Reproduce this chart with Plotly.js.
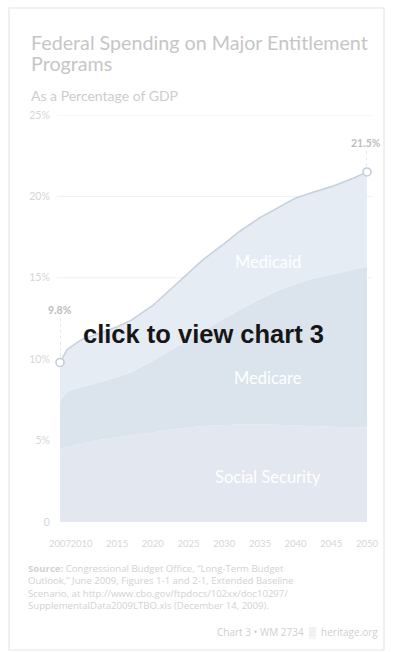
<!DOCTYPE html>
<html>
<head>
<meta charset="utf-8">
<script src="https://cdn.plot.ly/plotly-3.0.1.min.js"></script>
<style>
  html, body { margin: 0; padding: 0; background: #ffffff; }
  #chart { width: 393px; height: 652px; }
</style>
</head>
<body>
<div id="chart"></div>
<script>
// ---- Data (percent of GDP) ----
var years = [2007, 2008, 2010, 2012, 2015, 2017, 2020, 2022, 2025, 2027, 2030, 2032, 2035, 2038, 2040, 2042, 2045, 2048, 2050];
var socialSecurity = [4.5, 4.6, 4.8, 5.0, 5.2, 5.35, 5.5, 5.65, 5.8, 5.9, 5.95, 6.0, 6.0, 5.95, 5.95, 5.9, 5.85, 5.8, 5.8];
var medicare = [2.9, 3.4, 3.5, 3.5, 3.7, 3.85, 4.4, 4.75, 5.4, 5.8, 6.55, 7.0, 7.7, 8.35, 8.65, 9.0, 9.35, 9.7, 9.9];
var medicaid = [2.4, 2.6, 2.9, 3.0, 3.1, 3.2, 3.4, 3.7, 4.1, 4.4, 4.6, 4.8, 5.0, 5.1, 5.3, 5.3, 5.4, 5.6, 5.8];
var xTickVals = [2007, 2010, 2015, 2020, 2025, 2030, 2035, 2040, 2045, 2050];
var yTickVals = [0, 5, 10, 15, 20, 25];
var yTickText = ['0', '5%', '10%', '15%', '20%', '25%'];
var endLabels = ['9.8%', '21.5%'];
var sourceLines = [
  '<b>Source:</b> Congressional Budget Office, \u201cLong-Term Budget',
  'Outlook,\u201d June 2009, Figures 1-1 and 2-1, Extended Baseline',
  'Scenario, at http://www.cbo.gov/ftpdocs/102xx/doc10297/',
  'SupplementalData2009LTBO.xls (December 14, 2009).'
];

// ---- Layout helpers (pixel -> paper) ----
var W = 393, H = 652, L = 60, R = 26, T = 115, B = 130;
var pw = W - L - R, ph = H - T - B;
function px(x) { return (x - L) / pw; }
function py(y) { return (H - B - y) / ph; }

var totals = years.map(function (_, i) { return socialSecurity[i] + medicare[i] + medicaid[i]; });
var last = years.length - 1;

var traces = [
  { x: years, y: socialSecurity, type: 'scatter', mode: 'lines', stackgroup: 'one',
    line: { width: 0, color: '#e3e7f0' }, fillcolor: '#e3e7f0', hoverinfo: 'skip', name: 'Social Security' },
  { x: years, y: medicare, type: 'scatter', mode: 'lines', stackgroup: 'one',
    line: { width: 0, color: '#dbe4ec' }, fillcolor: '#dbe4ec', hoverinfo: 'skip', name: 'Medicare' },
  { x: years, y: medicaid, type: 'scatter', mode: 'lines', stackgroup: 'one',
    line: { width: 1.6, color: '#c7d1dc' }, fillcolor: '#e6ecf4', hoverinfo: 'skip', name: 'Medicaid' },
  { x: [years[0], years[last]], y: [totals[0], totals[last]], type: 'scatter', mode: 'markers',
    marker: { size: 8, color: '#ffffff', line: { color: '#c2ccd8', width: 1.6 } }, hoverinfo: 'skip', cliponaxis: false }
];

var shapes = [
  { type: 'rect', xref: 'paper', yref: 'paper', x0: px(9), x1: px(384), y0: py(650), y1: py(8),
    line: { color: '#e6e6e6', width: 1.2 }, fillcolor: 'rgba(0,0,0,0)', layer: 'below' },
  { type: 'line', xref: 'x', yref: 'y', x0: years[0], x1: years[0], y0: totals[0] + 0.35, y1: totals[0] + 2.7,
    line: { color: '#d0d0d0', width: 1, dash: 'dot' } },
  { type: 'line', xref: 'x', yref: 'y', x0: years[last], x1: years[last], y0: totals[last] + 0.35, y1: totals[last] + 1.3,
    line: { color: '#d0d0d0', width: 1, dash: 'dot' } }
];
[15, 20, 25].forEach(function (v) {
  shapes.push({ type: 'line', xref: 'paper', yref: 'y', x0: px(57), x1: px(373), y0: v, y1: v,
    line: { color: '#f1f1f1', width: 1 }, layer: 'below' });
});

function paperText(x, y, text, font, xa, ya) {
  return { xref: 'paper', yref: 'paper', x: px(x), y: py(y), text: text, showarrow: false,
    xanchor: xa || 'center', yanchor: ya || 'middle', align: 'left', font: font };
}
var lato = 'Lato, sans-serif', open = '"Open Sans", sans-serif';

var annotations = [
  paperText(29, 42, 'Federal Spending on Major Entitlement', { family: lato, size: 19.7, color: '#c6c6c6' }, 'left'),
  paperText(29, 64, 'Programs', { family: lato, size: 19.7, color: '#c6c6c6' }, 'left'),
  paperText(29, 96, 'As a Percentage of GDP', { family: lato, size: 14, color: '#cdcdcd' }, 'left'),
  { x: years[0], y: totals[0], xref: 'x', yref: 'y', text: '<b>' + endLabels[0] + '</b>', showarrow: false,
    xanchor: 'center', yanchor: 'middle', yshift: 52, font: { family: lato, size: 10.5, color: '#bdbdbd' } },
  { x: years[last], y: totals[last], xref: 'x', yref: 'y', text: '<b>' + endLabels[1] + '</b>', showarrow: false,
    xanchor: 'center', yanchor: 'middle', yshift: 29, xshift: -1, font: { family: lato, size: 10.5, color: '#bdbdbd' } },
  paperText(268, 262, 'Medicaid', { family: lato, size: 16.5, color: '#ffffff' }),
  paperText(268, 378, 'Medicare', { family: lato, size: 16.5, color: '#ffffff' }),
  paperText(268, 477, 'Social Security', { family: lato, size: 16.5, color: '#ffffff' }),
  paperText(203, 334, '<b>click to view chart 3</b>', { family: 'Liberation Sans, Arial, sans-serif', size: 25.5, color: '#161616' }),
  paperText(380, 632, 'Chart 3 \u2022 WM 2734 \u00a0<b>\u2592</b>\u00a0 heritage.org', { family: open, size: 10, color: '#cfcfcf' }, 'right'),
  paperText(26, 560, sourceLines.join('<br>'), { family: open, size: 9.6, color: '#d2d2d2' }, 'left', 'top')
];

var layout = {
  width: W, height: H,
  margin: { l: L, r: R, t: T, b: B, pad: 0 },
  paper_bgcolor: '#ffffff', plot_bgcolor: '#ffffff',
  showlegend: false,
  xaxis: {
    range: [years[0], years[last]], tickvals: xTickVals, tickangle: 0, ticks: 'outside', ticklen: 13,
    tickcolor: 'rgba(0,0,0,0)', showgrid: false, zeroline: false, showline: false,
    tickfont: { family: lato, size: 9.5, color: '#d6d6d6' }, fixedrange: true
  },
  yaxis: {
    range: [0, 25], tickvals: yTickVals, ticktext: yTickText, ticks: 'outside', ticklen: 7,
    tickcolor: 'rgba(0,0,0,0)', showgrid: false, zeroline: false, showline: false,
    tickfont: { family: lato, size: 10.5, color: '#d6d6d6' }, fixedrange: true
  },
  shapes: shapes,
  annotations: annotations
};

Plotly.newPlot('chart', traces, layout, { displayModeBar: false, staticPlot: true });
</script>
</body>
</html>
